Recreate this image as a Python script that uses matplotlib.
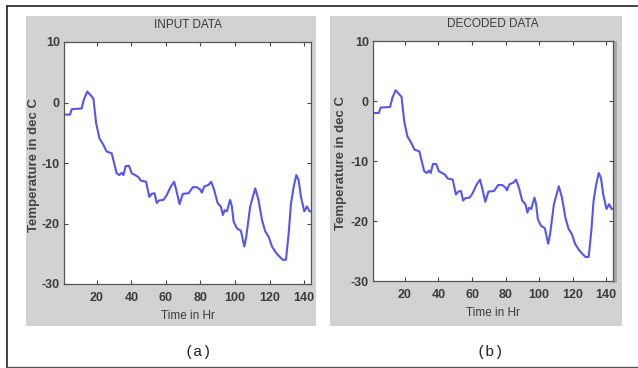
import matplotlib
matplotlib.use("Agg")
import matplotlib.pyplot as plt
from matplotlib.patches import Rectangle
from matplotlib.lines import Line2D

plt.rcParams["axes.unicode_minus"] = False

# ---- data ----
time_hr = [1, 4.5, 5.5, 11.2, 12.5, 14.5, 17, 18, 19.6, 21.5, 23.8, 25.7, 28.6, 30,
           31.5, 33, 34.4, 35.4, 36.7, 38.7, 40.2, 42.2, 44, 45.4, 48.5, 50.4, 51.8,
           53.4, 54.7, 56, 58.6, 60.5, 62.8, 64.8, 66.7, 67.9, 69.8, 73.1, 75.6, 77.9,
           79.9, 80.8, 82.2, 84.7, 86.2, 88, 89.9, 91.8, 93, 94, 95.3, 97.2, 98.2, 99.2,
           101.1, 103.4, 105.4, 106.5, 108.8, 111.7, 113.6, 115.6, 117.5, 119.5, 121.4,
           123.9, 126.2, 127.6, 129.5, 131.1, 132.4, 134, 135.5, 136.8, 138.2, 140.1,
           141.7, 143.2, 144]
temp_c = [-2, -2, -1.1, -1, 0.5, 1.8, 1.0, 0.7, -3.4, -5.9, -7.0, -8.1, -8.4, -10,
          -11.7, -12, -11.6, -12, -10.5, -10.5, -11.7, -12, -12.3, -12.9, -13.1, -15.6, -15.1,
          -15, -16.6, -16.2, -16.1, -15.3, -13.9, -13.1, -15.3, -16.8, -15.1, -15, -14, -14,
          -14.4, -14.9, -13.9, -13.6, -13.1, -14.5, -16.6, -17.2, -18.6, -17.8, -18, -16.1, -17.2, -19.7,
          -20.8, -21.2, -23.8, -22.2, -17.2, -14.2, -16.1, -19.4, -21.3, -22.2, -23.8,
          -24.9, -25.6, -26, -26, -21.6, -16.7, -13.9, -12, -12.8, -15.6, -18,
          -17.2, -18, -18]
decoded_c = list(temp_c)

x_ticks = [20, 40, 60, 80, 100, 120, 140]
y_ticks = [-30, -20, -10, 0, 10]
titles = ["INPUT DATA", "DECODED DATA"]
panel_labels = ["(a)", "(b)"]
xlabel = "Time in Hr"
ylabel = "Temperature in dec C"

W, H = 638, 368
fig = plt.figure(figsize=(W / 100, H / 100), dpi=100)
fig.patch.set_facecolor("white")

def rect(x0, y0, x1, y1):
    return [x0 / W, 1 - y1 / H, (x1 - x0) / W, (y1 - y0) / H]

SANS = ["Liberation Sans", "DejaVu Sans"]
TXT = "#3c3c3c"

# outer frame
fig.add_artist(Line2D([7 / W, 7 / W], [1 - 6 / H, 1 - 367 / H], transform=fig.transFigure, color="#333333", lw=1.3))
fig.add_artist(Line2D([7 / W, 637 / W], [1 - 6 / H, 1 - 6 / H], transform=fig.transFigure, color="#333333", lw=1.3))
fig.add_artist(Line2D([7 / W, 637 / W], [1 - 367 / H, 1 - 367 / H], transform=fig.transFigure, color="#555555", lw=1.0))

panels = [
    dict(bg=(26, 16, 316, 326), ax=(64, 42, 311, 284), ylab_x=34, lab_x=198),
    dict(bg=(330, 16, 622, 326), ax=(373, 41, 613, 281), ylab_x=341, lab_x=490),
]

for i, p in enumerate(panels):
    bx0, by0, bx1, by1 = p["bg"]
    fig.add_artist(Rectangle((bx0 / W, 1 - by1 / H), (bx1 - bx0) / W, (by1 - by0) / H,
                             transform=fig.transFigure, facecolor="#d2d2d2", edgecolor="none", zorder=0))
    if i == 1:
        ax0, ay0, ax1, ay1 = p["ax"]
        fig.add_artist(Rectangle((ax1 / W, 1 - (ay1 + 2) / H), 4 / W, (ay1 - ay0 + 2) / H,
                                 transform=fig.transFigure, facecolor="#a8a8a8", edgecolor="none", zorder=0))
    ax = fig.add_axes(rect(*p["ax"]))
    ax.set_facecolor("white")
    yvals = temp_c if i == 0 else decoded_c
    ax.plot(time_hr, yvals, color="#5555f2", lw=1.5)
    ax.set_xlim(1, 144)
    ax.set_ylim(-30, 10)
    ax.set_xticks(x_ticks)
    ax.set_yticks(y_ticks)
    ax.tick_params(direction="in", length=3, width=0.8, top=True, right=True,
                   labelsize=9, colors="#444444", labelcolor=TXT)
    ax.tick_params(axis="x", pad=6)
    ax.tick_params(axis="y", pad=3)
    for lbl in ax.get_xticklabels() + ax.get_yticklabels():
        lbl.set_family(SANS)
        lbl.set_fontweight("bold")
    for s in ax.spines.values():
        s.set_color("#555555")
        s.set_linewidth(0.9)
    ax.set_title(titles[i], fontsize=8.5, family=SANS, color=TXT, pad=10)
    ax.set_xlabel(xlabel, fontsize=8.5, family=SANS, color=TXT, labelpad=4)
    cy = (p["ax"][1] + p["ax"][3]) / 2
    fig.text(p["ylab_x"] / W, 1 - (cy + 2) / H, ylabel, rotation=90, ha="center", va="center",
             fontsize=9.5, family=SANS, fontweight="bold", color="#444444")
    fig.text(p["lab_x"] / W, 1 - 352 / H, panel_labels[i], ha="center", va="center",
             fontsize=11, family=["Liberation Mono", "DejaVu Sans Mono"], color="#222222")

fig.savefig("out.png", dpi=100)
